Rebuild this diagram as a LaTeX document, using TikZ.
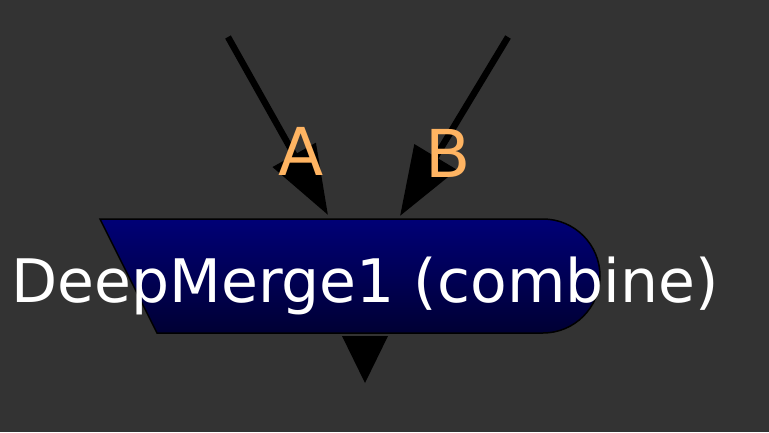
\documentclass[tikz,border=0pt]{standalone}
\usepackage{fontspec}
\setmainfont{DejaVu Sans}
\usetikzlibrary{arrows.meta}

\definecolor{bgGray}{RGB}{51,51,51}
\definecolor{nodeTop}{RGB}{0,0,118}
\definecolor{nodeBottom}{RGB}{0,0,52}
\definecolor{labelOrange}{RGB}{255,180,98}

\begin{document}
\begin{tikzpicture}[x=1pt,y=-1pt]
  \tikzset{mergebox/.style={draw=black, line width=1.5pt, top color=nodeTop, bottom color=nodeBottom}}
  \tikzset{title/.style={text=white, anchor=base, inner sep=0pt, font=\fontsize{60}{72}\selectfont}}
  \tikzset{inlabel/.style={text=labelOrange, anchor=base, inner sep=0pt, font=\fontsize{66}{78}\selectfont}}
  \tikzset{input/.style={draw=black, line width=6.5pt, -{Triangle[length=69pt,width=48pt]}}}
  \tikzset{output/.style={fill=black, draw=none}}

  \fill[bgGray] (0,0) rectangle (769,432);
  \useasboundingbox (0,0) rectangle (769,432);

  \path[mergebox] (100,219) -- (543,219) arc[start angle=-90, end angle=90, radius=57] -- (157,333) -- cycle;
  \node[title] (merge) at (365,302) {DeepMerge1 (combine)};

  \coordinate (srcA) at (228,37);
  \coordinate (srcB) at (508,37);
  \coordinate (inA) at (328,215);
  \coordinate (inB) at (400,216);

  \draw[input] (srcA) -- (inA);
  \draw[input] (srcB) -- (inB);

  \node[inlabel] (A) at (301,175) {A};
  \node[inlabel] (B) at (448,177) {B};

  \path[output] (342,336) -- (388,336) -- (365,383) -- cycle;
\end{tikzpicture}
\end{document}
